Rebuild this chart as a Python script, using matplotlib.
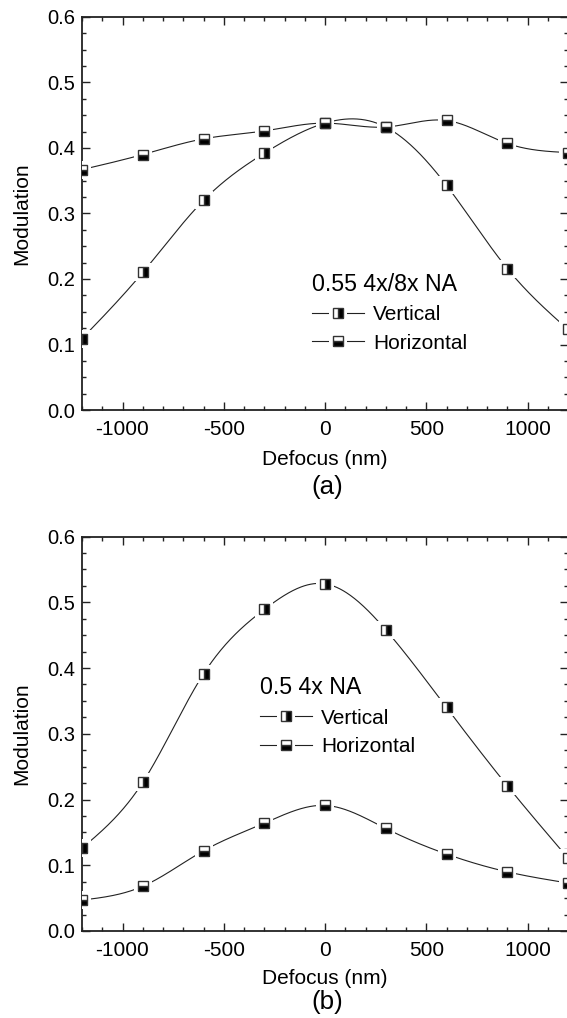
import numpy as np
import matplotlib
matplotlib.use("Agg")
import matplotlib.pyplot as plt
from matplotlib.ticker import MultipleLocator
from matplotlib.legend_handler import HandlerTuple

plt.rcParams['font.family'] = ['Liberation Sans', 'DejaVu Sans']
plt.rcParams['axes.unicode_minus'] = False

# ---------------- data ----------------
defocus = [-1200, -900, -600, -300, 0, 300, 600, 900, 1200]

a_vertical = [0.109, 0.210, 0.320, 0.392, 0.438, 0.432, 0.343, 0.216, 0.123]
a_horizontal = [0.367, 0.390, 0.414, 0.426, 0.438, 0.432, 0.442, 0.407, 0.393]

b_vertical = [0.126, 0.226, 0.391, 0.489, 0.528, 0.458, 0.340, 0.221, 0.111]
b_horizontal = [0.047, 0.068, 0.122, 0.164, 0.191, 0.156, 0.117, 0.090, 0.073]

titles = ["0.55 4x/8x NA", "0.5 4x NA"]
panel_labels = ["(a)", "(b)"]
series_labels = ["Vertical", "Horizontal"]
xticks = [-1000, -500, 0, 500, 1000]
yticks = [0.0, 0.1, 0.2, 0.3, 0.4, 0.5, 0.6]


def natural_spline(x, y, xs):
    x = np.asarray(x, float)
    y = np.asarray(y, float)
    n = len(x)
    h = np.diff(x)
    A = np.zeros((n, n))
    r = np.zeros(n)
    A[0, 0] = 1
    A[-1, -1] = 1
    for i in range(1, n - 1):
        A[i, i - 1] = h[i - 1]
        A[i, i] = 2 * (h[i - 1] + h[i])
        A[i, i + 1] = h[i]
        r[i] = 6 * ((y[i + 1] - y[i]) / h[i] - (y[i] - y[i - 1]) / h[i - 1])
    M = np.linalg.solve(A, r)
    idx = np.clip(np.searchsorted(x, xs) - 1, 0, n - 2)
    x0, x1 = x[idx], x[idx + 1]
    y0, y1 = y[idx], y[idx + 1]
    m0, m1 = M[idx], M[idx + 1]
    hh = x1 - x0
    t0 = x1 - xs
    t1 = xs - x0
    return (m0 * t0 ** 3 / (6 * hh) + m1 * t1 ** 3 / (6 * hh)
            + (y0 / hh - m0 * hh / 6) * t0 + (y1 / hh - m1 * hh / 6) * t1)


W, H = 567, 1018
fig = plt.figure(figsize=(W / 100, H / 100), dpi=100)

ax_a = fig.add_axes([82 / W, (H - 410) / H, 486 / W, 393 / H])
ax_b = fig.add_axes([82 / W, (H - 931) / H, 486 / W, 394.5 / H])

line_kw = dict(color='#222222', lw=0.8, zorder=2)
pad_kw = dict(ls='none', marker='s', ms=13, mfc='white', mec='white', mew=0, zorder=3)
mk_common = dict(ls='none', marker='s', ms=7.6, mfc='black', mfcalt='white',
                 mec='#333333', mew=1.0, zorder=4)
fills = {"Vertical": 'right', "Horizontal": 'bottom'}

xtick_fs = 15
ytick_fs = 14.5
label_fs = 15
legend_fs = 15
title_fs = 16.7

legend_anchor = [(0.473, 0.349), (0.366, 0.646)]
xlabel_y = [-0.103, -0.097]

for k, (ax, vert, horiz) in enumerate([(ax_a, a_vertical, a_horizontal),
                                       (ax_b, b_vertical, b_horizontal)]):
    xs = np.linspace(defocus[0], defocus[-1], 600)
    handles = []
    for name, vals in zip(series_labels, [vert, horiz]):
        ax.plot(xs, natural_spline(defocus, vals, xs), **line_kw)
        ax.plot(defocus, vals, **pad_kw)
        ax.plot(defocus, vals, fillstyle=fills[name], **mk_common)
        h_line = plt.Line2D([], [], **line_kw)
        h_pad = plt.Line2D([], [], **pad_kw)
        h_mk = plt.Line2D([], [], fillstyle=fills[name], **mk_common)
        handles.append((h_line, h_pad, h_mk))

    ax.set_xlim(-1200, 1200)
    ax.set_ylim(0, 0.6)
    ax.set_xticks(xticks)
    ax.set_yticks(yticks)
    ax.xaxis.set_minor_locator(MultipleLocator(100))
    ax.yaxis.set_minor_locator(MultipleLocator(0.025))
    ax.tick_params(which='both', direction='in', top=True, right=True,
                   width=1.0, color='#222222')
    ax.tick_params(which='major', length=6)
    ax.tick_params(which='minor', length=3)
    ax.tick_params(axis='x', which='major', pad=7, labelsize=xtick_fs)
    ax.tick_params(axis='y', which='major', pad=5, labelsize=ytick_fs)
    for sp in ax.spines.values():
        sp.set_linewidth(1.3)
        sp.set_color('#222222')

    ax.set_xlabel("Defocus (nm)", fontsize=label_fs)
    ax.set_ylabel("Modulation", fontsize=label_fs)
    ax.yaxis.set_label_coords(-0.105, 0.5)
    ax.xaxis.set_label_coords(0.5, xlabel_y[k])

    leg = ax.legend(handles, series_labels, title=titles[k],
                    handler_map={tuple: HandlerTuple(ndivide=1, pad=0)},
                    loc='upper left', bbox_to_anchor=legend_anchor[k],
                    frameon=False, fontsize=legend_fs, title_fontsize=title_fs,
                    alignment='left', handlelength=2.5, handletextpad=0.45,
                    labelspacing=0.45, borderpad=0, borderaxespad=0)

fig.text(327.5 / W, 1 - 487 / H, panel_labels[0], fontsize=18.7, ha='center', va='center')
fig.text(327 / W, 1 - 1002 / H, panel_labels[1], fontsize=18.7, ha='center', va='center')

fig.savefig("out.png", dpi=100)
